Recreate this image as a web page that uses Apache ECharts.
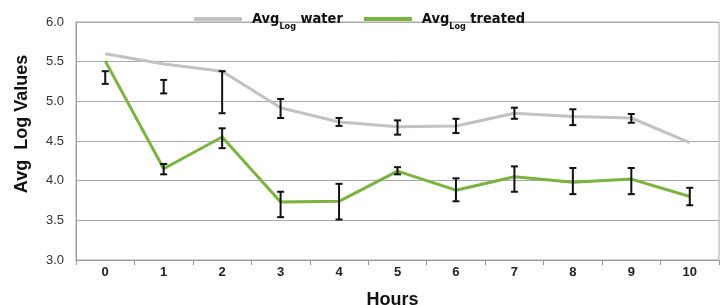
<!DOCTYPE html>
<html>
<head>
<meta charset="utf-8">
<script src="https://cdn.jsdelivr.net/npm/echarts@6/dist/echarts.min.js"></script>
<style>
  html, body { margin: 0; padding: 0; background: #fff; }
  #chart { width: 721px; height: 305px; }
</style>
</head>
<body>
<div id="chart"></div>
<script>
// hours on the x axis
var hours = ['0', '1', '2', '3', '4', '5', '6', '7', '8', '9', '10'];

// average log values
var waterAvg = [5.60, 5.47, 5.38, 4.92, 4.74, 4.68, 4.69, 4.85, 4.81, 4.79, 4.48];
var treatedAvg = [5.51, 4.15, 4.55, 3.73, 3.74, 4.12, 3.88, 4.05, 3.98, 4.02, 3.80];

// error bars (low / high)
var waterLow = [5.22, 5.10, 4.85, 4.79, 4.69, 4.58, 4.60, 4.78, 4.70, 4.73, null];
var waterHigh = [5.38, 5.27, 5.38, 5.03, 4.79, 4.76, 4.78, 4.92, 4.90, 4.84, null];
var treatedLow = [null, 4.08, 4.41, 3.54, 3.51, 4.08, 3.74, 3.86, 3.83, 3.83, 3.69];
var treatedHigh = [null, 4.21, 4.66, 3.86, 3.96, 4.17, 4.03, 4.18, 4.16, 4.16, 3.91];

var yTicks = [3.0, 3.5, 4.0, 4.5, 5.0, 5.5, 6.0];

var condensed = "'Liberation Sans Narrow', 'DejaVu Sans Condensed', 'Liberation Sans', sans-serif";

function errData(low, high) {
    var out = [];
    for (var i = 0; i < low.length; i++) {
        if (low[i] != null) out.push([i, low[i], high[i]]);
    }
    return out;
}

function renderErr(params, api) {
    var x = api.value(0);
    var lo = api.coord([x, api.value(1)]);
    var hi = api.coord([x, api.value(2)]);
    var w = 3.5;
    var style = { stroke: '#111', lineWidth: 2 };
    return {
        type: 'group',
        children: [
            { type: 'line', shape: { x1: lo[0], y1: lo[1], x2: hi[0], y2: hi[1] }, style: style },
            { type: 'line', shape: { x1: hi[0] - w, y1: hi[1], x2: hi[0] + w, y2: hi[1] }, style: style },
            { type: 'line', shape: { x1: lo[0] - w, y1: lo[1], x2: lo[0] + w, y2: lo[1] }, style: style }
        ]
    };
}

var chart = echarts.init(document.getElementById('chart'));

var option = {
    animation: false,
    textStyle: { fontFamily: "'Liberation Sans', Arial, sans-serif" },
    grid: {
        left: 76, right: 2, top: 22, bottom: 45,
        outerBoundsMode: 'none',
        containLabel: false,
        show: true, borderColor: '#aaa', borderWidth: 1
    },
    legend: {
        left: 194,
        top: 7,
        padding: 0,
        itemWidth: 48,
        itemHeight: 4,
        itemGap: 21,
        data: [
            { name: 'water', icon: 'rect', itemStyle: { color: '#c2c2c2' } },
            { name: 'treated', icon: 'rect', itemStyle: { color: '#7ab33e' } }
        ],
        formatter: function (name) {
            return '{p|Avg}{s|Log}{a| ' + name + '}';
        },
        textStyle: {
            rich: {
                p: { fontFamily: condensed, fontWeight: 'bold', fontSize: 14.5, lineHeight: 17, color: '#111', padding: [0, 0, 0, 5] },
                a: { fontFamily: condensed, fontWeight: 'bold', fontSize: 14.5, lineHeight: 17, color: '#111' },
                s: { fontFamily: condensed, fontWeight: 'bold', fontSize: 9, lineHeight: 9, color: '#111', padding: [15, 0, 0, 0] }
            }
        }
    },
    xAxis: {
        type: 'category',
        data: hours,
        boundaryGap: true,
        name: 'Hours',
        nameLocation: 'middle',
        nameGap: 31,
        nameTextStyle: { fontWeight: 'bold', fontSize: 18, color: '#111', padding: [0, 10, 0, 0] },
        axisLine: { lineStyle: { color: '#999', width: 1 } },
        axisTick: { show: true, length: 5, lineStyle: { color: '#999' } },
        axisLabel: { fontWeight: 'bold', fontSize: 13, color: '#222', margin: 6 },
        splitLine: { show: false }
    },
    yAxis: {
        type: 'value',
        min: 3,
        max: 6,
        interval: 0.5,
        name: 'Avg  Log Values',
        nameLocation: 'middle',
        nameGap: 45,
        nameTextStyle: { fontWeight: 'bold', fontSize: 18, color: '#111', padding: [0, 0, 0, 34] },
        axisLine: { show: true, lineStyle: { color: '#999' } },
        axisTick: { show: false },
        axisLabel: {
            fontSize: 13, color: '#333', margin: 12,
            formatter: function (v) { return yTicks.indexOf(v) >= 0 ? v.toFixed(1) : ''; }
        },
        splitLine: { lineStyle: { color: '#aaa', width: 1 } }
    },
    series: [
        {
            name: 'water',
            type: 'line',
            data: waterAvg,
            showSymbol: false,
            symbol: 'none',
            lineStyle: { color: '#c2c2c2', width: 3 },
            itemStyle: { color: '#c2c2c2' },
            z: 2
        },
        {
            name: 'treated',
            type: 'line',
            data: treatedAvg,
            showSymbol: false,
            symbol: 'none',
            lineStyle: { color: '#7ab33e', width: 3 },
            itemStyle: { color: '#7ab33e' },
            z: 3
        },
        {
            type: 'custom',
            renderItem: renderErr,
            data: errData(waterLow, waterHigh),
            encode: { x: 0, y: [1, 2] },
            z: 5
        },
        {
            type: 'custom',
            renderItem: renderErr,
            data: errData(treatedLow, treatedHigh),
            encode: { x: 0, y: [1, 2] },
            z: 5
        }
    ]
};

chart.setOption(option);
</script>
</body>
</html>
